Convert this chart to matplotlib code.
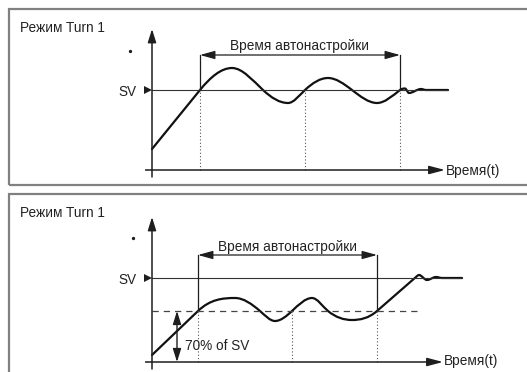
"""Autotune (Turn 1) response diagrams: two panels, drawn as schematic plots."""

import numpy as np
import matplotlib

matplotlib.use("Agg")
import matplotlib.pyplot as plt
from matplotlib.path import Path
from matplotlib.patches import PathPatch, Rectangle

plt.rcParams["font.family"] = ["Liberation Sans", "DejaVu Sans"]

W, H = 527, 372

MODE_TITLE = "Режим Turn 1"
TUNE_LABEL = "Время автонастройки"
TIME_LABEL = "Время(t)"
SV_LABEL = "SV"
PCT_LABEL = "70% of SV"

# time is measured from the level axis, level is measured up from the time axis
TOP_T = [0, 48, 80, 111, 136, 153, 176, 200, 225, 248, 253, 257, 269, 274, 296]
TOP_L = [21, 80, 102, 80, 67, 80, 92, 80, 67, 80, 81.5, 77, 81, 80, 80]
TOP_STRAIGHT = {0, 13}
TOP_SV = 80
TOP_DROPS = [48, 153, 248]
TOP_TUNE = (48, 248)

BOT_T = [0, 46, 83, 108, 123, 140, 160, 176, 200, 225, 264, 267, 275, 284, 290, 310]
BOT_L = [7, 51, 64, 51, 41, 51, 64, 51, 42, 51, 85, 87, 82, 85, 84, 84]
BOT_STRAIGHT = {0, 9, 14}
BOT_SV = 84
BOT_70 = 51
BOT_DROPS = [46, 140, 225]
BOT_TUNE = (46, 225)

INK = "#1e1e1e"
GREY = "#555555"
FRAME = "#808080"
FONT_SIZE = 9.8


def wave_path(t, v, straight, k=1.5):
    t = np.asarray(t, float)
    v = np.asarray(v, float)
    n = len(t)
    slope = np.zeros(n)
    for i in range(n):
        if (i - 1) in straight:
            slope[i] = (v[i] - v[i - 1]) / (t[i] - t[i - 1])
        elif i in straight:
            slope[i] = (v[i + 1] - v[i]) / (t[i + 1] - t[i])
        elif i == 0 or i == n - 1:
            slope[i] = 0.0
        elif (v[i] - v[i - 1]) * (v[i + 1] - v[i]) <= 0:
            slope[i] = 0.0  # peak or trough
        else:
            slope[i] = k * (v[i + 1] - v[i - 1]) / (t[i + 1] - t[i - 1])

    verts = [(t[0], v[0])]
    codes = [Path.MOVETO]
    for i in range(n - 1):
        if i in straight:
            verts.append((t[i + 1], v[i + 1]))
            codes.append(Path.LINETO)
        else:
            h = t[i + 1] - t[i]
            verts += [
                (t[i] + h / 3, v[i] + slope[i] * h / 3),
                (t[i + 1] - h / 3, v[i + 1] - slope[i + 1] * h / 3),
                (t[i + 1], v[i + 1]),
            ]
            codes += [Path.CURVE4] * 3
    return Path(verts, codes)


def arrow(ax, tail, tip, style="-|>", hl=0.8, hw=0.25, lw=1.0, color=INK):
    ax.annotate(
        "",
        xy=tip,
        xytext=tail,
        arrowprops=dict(
            arrowstyle=f"{style},head_length={hl},head_width={hw}",
            mutation_scale=10,
            lw=lw,
            color=color,
            shrinkA=0,
            shrinkB=0,
        ),
    )


def panel_axes(fig, top_px, bottom_px, axis_px):
    ax = fig.add_axes([0, 1 - bottom_px / H, 1, (bottom_px - top_px) / H])
    ax.set_xlim(-152, W - 152)
    ax.set_ylim(axis_px - bottom_px, axis_px - top_px)
    ax.axis("off")
    ax.patch.set_alpha(0)
    return ax


def draw_panel(ax, t, v, straight, sv, drops, tune, y_top, x_end, sv_end,
               title_y, sv_y, dot, tune_y, tune_text_y, time_text_y):
    text_kw = dict(fontsize=FONT_SIZE, color="#222222", va="baseline")

    # axes of the diagram
    arrow(ax, (0, -7), (0, y_top), hl=0.8, hw=0.25, lw=1.1)
    ax.plot([-7, 0], [0, 0], color=INK, lw=1.1, solid_capstyle="butt")
    arrow(ax, (0, 0), (x_end, 0), hl=0.95, hw=0.25, lw=1.1)
    ax.text(x_end + 1, time_text_y, TIME_LABEL, ha="left", **text_kw)

    # set value
    ax.plot([0, sv_end], [sv, sv], color="#333333", lw=0.8)
    ax.plot([-4], [sv], marker=">", ms=6, color=INK, mew=0)
    ax.text(-34, sv_y, SV_LABEL, ha="left", **text_kw)
    ax.plot([dot[0]], [dot[1]], marker="o", ms=2.4, color=INK, mew=0)
    ax.text(-132, title_y, MODE_TITLE, ha="left", **text_kw)

    # dotted drop lines from the crossings
    for x in drops:
        y0 = v[t.index(x)]
        ax.plot([x, x], [0, y0], color=GREY, lw=0.8, ls=(0, (1, 2)))

    # autotune span
    left, right = tune
    ax.plot([left, left], [v[t.index(left)], tune_y], color=INK, lw=0.9)
    ax.plot([right, right], [v[t.index(right)], tune_y], color=INK, lw=0.9)
    arrow(ax, (left, tune_y), (right, tune_y), style="<|-|>", hl=0.9, hw=0.25, lw=0.9)
    ax.text((left + right) / 2, tune_text_y, TUNE_LABEL, ha="center", **text_kw)

    ax.add_patch(PathPatch(wave_path(t, v, straight), fill=False, ec="#111111",
                           lw=1.6, capstyle="round", joinstyle="round"))


def main():
    fig = plt.figure(figsize=(W / 100, H / 100), dpi=100)

    # panel frames
    fig.add_artist(Rectangle((9 / W, (H - 185) / H), 1.2, (185 - 9) / H,
                             transform=fig.transFigure, fill=False, ec=FRAME, lw=1.6))
    fig.add_artist(Rectangle((9 / W, -0.1), 1.2, (H - 194) / H + 0.1,
                             transform=fig.transFigure, fill=False, ec=FRAME, lw=1.6))

    top = panel_axes(fig, 0, 185, 170)
    draw_panel(top, TOP_T, TOP_L, TOP_STRAIGHT, TOP_SV, TOP_DROPS, TOP_TUNE,
               y_top=141, x_end=293, sv_end=296, title_y=138, sv_y=74,
               dot=(-22, 119), tune_y=115, tune_text_y=120, time_text_y=-5)

    bot = panel_axes(fig, 185, H, 362)
    draw_panel(bot, BOT_T, BOT_L, BOT_STRAIGHT, BOT_SV, BOT_DROPS, BOT_TUNE,
               y_top=145, x_end=291, sv_end=310, title_y=145, sv_y=78,
               dot=(-19, 124), tune_y=107, tune_text_y=111, time_text_y=-3)

    # 70% of SV marker
    bot.plot([0, 265], [BOT_70, BOT_70], color="#444444", lw=0.9, ls=(0, (5, 4)))
    arrow(bot, (25, 0), (25, BOT_70), style="<|-|>", hl=0.8, hw=0.25, lw=1.0)
    bot.text(33, 12, PCT_LABEL, ha="left", va="baseline", fontsize=FONT_SIZE, color="#222222")

    fig.savefig("out.png", dpi=100)
    plt.close(fig)


if __name__ == "__main__":
    main()
